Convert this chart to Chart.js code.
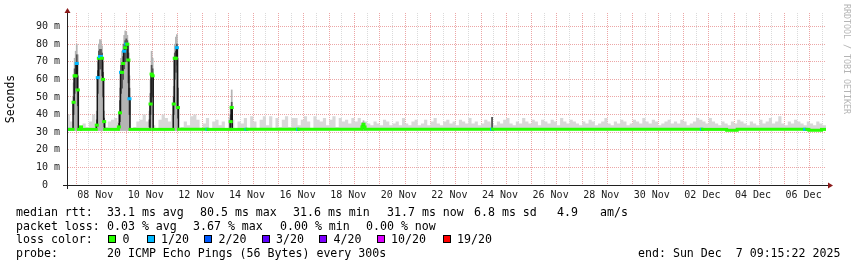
<!DOCTYPE html>
<html>
<head>
<meta charset="utf-8">
<title>median rtt</title>
<script src="https://cdn.jsdelivr.net/npm/chart.js@4.4.1/dist/chart.umd.min.js"></script>
<style>
  html, body { margin: 0; padding: 0; background: #fff; }
  #wrap { position: relative; width: 857px; height: 267px; overflow: hidden; }
  #chartBox { position: absolute; left: 0; top: 0; width: 857px; height: 267px; }
  .leg { position: absolute; font-family: 'DejaVu Sans Mono', monospace; font-size: 11.6px; line-height: 14px; color: #000; white-space: pre; }
  .sq { position: absolute; width: 8px; height: 8px; box-sizing: border-box; border: 1px solid #000; }
  #credit { position: absolute; left: 842px; top: 4px; writing-mode: vertical-rl; font-family: 'DejaVu Sans Mono', monospace; font-size: 8.3px; color: #b4b4b4; white-space: pre; }
</style>
</head>
<body>
<div id="wrap">
  <div id="chartBox"><canvas id="rttChart"></canvas></div>
  <div id="credit">RRDTOOL / TOBI OETIKER</div>

  <div class="leg" style="left:16px;top:205px">median rtt:</div>
  <div class="leg" style="left:107px;top:205px">33.1 ms avg</div>
  <div class="leg" style="left:200px;top:205px">80.5 ms max</div>
  <div class="leg" style="left:293px;top:205px">31.6 ms min</div>
  <div class="leg" style="left:387px;top:205px">31.7 ms now</div>
  <div class="leg" style="left:474px;top:205px">6.8 ms sd</div>
  <div class="leg" style="left:557px;top:205px">4.9</div>
  <div class="leg" style="left:600px;top:205px">am/s</div>

  <div class="leg" style="left:16px;top:218.5px">packet loss:</div>
  <div class="leg" style="left:107px;top:218.5px">0.03 % avg</div>
  <div class="leg" style="left:193px;top:218.5px">3.67 % max</div>
  <div class="leg" style="left:280px;top:218.5px">0.00 % min</div>
  <div class="leg" style="left:366px;top:218.5px">0.00 % now</div>

  <div class="leg" style="left:16px;top:232px">loss color:</div>
  <div id="lossKey"></div>

  <div class="leg" style="left:16px;top:246px">probe:</div>
  <div class="leg" style="left:107px;top:246px">20 ICMP Echo Pings (56 Bytes) every 300s</div>
  <div class="leg" style="left:638px;top:246px">end: Sun Dec  7 09:15:22 2025</div>
</div>

<script>
// time axis is in hours counted from 1 Nov 2025 00:00
const START_H = 153.25;   // 7 Nov 09:15
const END_H = 873.25;     // 7 Dec 09:15

const dayLabels = ['08 Nov', '10 Nov', '12 Nov', '14 Nov', '16 Nov', '18 Nov', '20 Nov', '22 Nov',
                   '24 Nov', '26 Nov', '28 Nov', '30 Nov', '02 Dec', '04 Dec', '06 Dec'];
const firstLabelH = 180;  // 8 Nov 12:00, then every 48h

// background smoke, 3 hour bins from 7 Nov 09:00, top of the ping spread in ms
const noiseStartH = 153;
const noiseTop = [
  40, 36, 33, 33, 32, 35, 33, 36,
  40, 34, 36, 36, 33, 36, 37, 38,
  36, 40, 40, 40, 32, 33, 36, 37,
  40, 36, 38, 34, 32, 37, 40, 38,
  36, 40, 40, 32, 33, 36, 34, 39,
  40, 37, 32, 35, 38, 32, 36, 37,
  34, 36, 32, 38, 37, 32, 36, 35,
  38, 32, 39, 36, 32, 37, 39, 34,
  39, 32, 38, 33, 37, 39, 33, 38,
  38, 34, 37, 39, 36, 32, 39, 37,
  36, 38, 34, 37, 39, 33, 38, 36,
  37, 35, 38, 36, 38, 35, 36, 35,
  34, 36, 35, 34, 37, 36, 34, 35,
  36, 34, 38, 35, 34, 36, 37, 34,
  35, 37, 34, 36, 38, 35, 34, 36,
  37, 35, 36, 34, 37, 36, 35, 38,
  35, 36, 34, 35, 37, 36, 35, 34,
  36, 35, 37, 38, 35, 34, 36, 35,
  38, 36, 35, 37, 36, 34, 37, 36,
  35, 37, 36, 34, 38, 36, 35, 37,
  36, 35, 34, 36, 35, 37, 36, 34,
  35, 36, 38, 35, 34, 36, 35, 37,
  36, 34, 35, 37, 36, 35, 38, 36,
  35, 37, 36, 34, 35, 36, 37, 35,
  36, 35, 37, 36, 34, 35, 36, 38,
  37, 36, 35, 38, 36, 35, 34, 36,
  35, 34, 36, 35, 37, 36, 35, 34,
  36, 35, 34, 37, 35, 36, 38, 35,
  36, 39, 35, 34, 36, 35, 37, 36,
  35, 34, 36, 35, 34, 36, 35, 34
];

// median rtt (ms) from the hour where it changes, with lost pings out of 20
const medHour = [153.25, 155, 159, 160, 161, 162, 163, 164, 166, 167,
                 181, 182, 183, 184, 185, 186, 187, 188, 189,
                 202, 203, 204, 205, 206, 207, 208, 209, 210, 211, 212, 213,
                 232, 233, 234, 235, 254, 255, 256, 257, 258, 259,
                 286, 287, 308, 309, 310, 323, 324, 372, 373,
                 433, 434, 435, 436, 556, 557, 755, 756, 779, 789, 853, 855, 857, 869];
const medRtt = [31.6, 31.6, 47, 62, 62, 69, 54, 31.6, 33, 31.6,
                34, 61, 72, 73, 73, 72, 60, 36, 31.6,
                33, 41, 64, 64, 69, 76, 78, 80, 80, 71, 49, 31.6,
                46, 63, 62, 31.6, 46, 72, 72, 78, 44, 31.6,
                31.6, 31.6, 36, 44, 31.6, 31.6, 31.6, 31.6, 31.6,
                33, 34.5, 33, 31.6, 31.6, 31.6, 31.6, 31.6, 31.1, 31.6, 31.6, 31.6, 31.1, 31.6];
const medLoss = [1, 0, 0, 0, 0, 1, 0, 0, 0, 0,
                 0, 1, 0, 1, 1, 0, 0, 0, 0,
                 0, 0, 1, 0, 0, 1, 0, 1, 0, 0, 1, 0,
                 0, 0, 0, 0, 0, 0, 0, 1, 0, 0,
                 1, 0, 0, 0, 0, 1, 0, 1, 0,
                 0, 0, 0, 0, 1, 0, 1, 0, 0, 0, 1, 0, 0, 0];

// hourly smoke in the evening slowdowns: top of spread, dense band high/low
const spikeHour = [159, 160, 161, 162, 163,
                   181, 182, 183, 184, 185, 186, 187, 188,
                   202, 203, 204, 205, 206, 207, 208, 209, 210, 211, 212,
                   231, 232, 233, 234,
                   254, 255, 256, 257, 258,
                   308, 309, 433, 434, 556];
const spikeTop = [58, 72, 76, 80, 74,
                  42, 70, 80, 82.6, 82, 79, 70, 42,
                  40, 55, 72, 76, 80, 85, 87.5, 87, 85, 79, 62,
                  42, 60, 76, 72,
                  56, 80, 84, 85.5, 72,
                  45, 54, 35.5, 36.5, 38.5];
const spikeHi = [50, 66, 68, 74, 62,
                 37, 65, 76, 77, 77, 75, 64, 38,
                 35, 48, 68, 68, 73, 80, 82, 83, 82, 75, 55,
                 37, 52, 68, 66,
                 50, 75, 76, 80, 55,
                 40, 47, 34, 35, 38.5];
const spikeLo = [40, 52, 55, 62, 45,
                 33, 52, 62, 66, 66, 62, 50, 33,
                 33, 36, 52, 55, 60, 66, 70, 72, 70, 58, 40,
                 33, 40, 52, 50,
                 40, 60, 64, 68, 38,
                 33, 37, 32, 32, 32];

const lossSteps = [0, 1, 2, 3, 4, 10, 19];
const lossNames = ['0', '1/20', '2/20', '3/20', '4/20', '10/20', '19/20'];
const lossColors = ['#26ff00', '#00b8ff', '#0059ff', '#5e00ff', '#7e00ff', '#dd00ff', '#ff0000'];

const GRID_GRAY = '#dadada';
const GRID_RED = '#eca6a6';
const AXIS_FONT = { family: 'DejaVu Sans Mono', size: 10 };

function lossColor(lost) {
    let c = lossColors[0];
    lossSteps.forEach((s, i) => { if (lost >= s) c = lossColors[i]; });
    return c;
}

// legend squares for the loss colours
const squareX = [108, 146.5, 204, 261.5, 319, 376.5, 442.5];
const keyBox = document.getElementById('lossKey');
lossNames.forEach((name, i) => {
    const sq = document.createElement('div');
    sq.className = 'sq';
    sq.style.left = squareX[i] + 'px';
    sq.style.top = '235px';
    sq.style.background = lossColors[i];
    keyBox.appendChild(sq);
    const lbl = document.createElement('div');
    lbl.className = 'leg';
    lbl.style.left = (squareX[i] + 14.5) + 'px';
    lbl.style.top = '232px';
    lbl.textContent = name;
    keyBox.appendChild(lbl);
});

// build the datasets
const noisePoints = noiseTop.map((v, i) => ({ x: noiseStartH + 3 * i, y: v }));
noisePoints.push({ x: END_H, y: noiseTop[noiseTop.length - 1] });

const medPoints = medHour.map((h, i) => ({ x: h, y: medRtt[i] }));
medPoints.push({ x: END_H, y: medRtt[medRtt.length - 1] });

// loss coloured median: one flat piece per bin, no vertical joins
const lossPoints = [];
medHour.forEach((h, i) => {
    const end = i + 1 < medHour.length ? medHour[i + 1] : END_H;
    lossPoints.push({ x: h, y: medRtt[i] }, { x: end, y: medRtt[i] }, { x: end, y: null });
});

const outerBars = spikeHour.map((h, i) => ({ x: h + 0.5, y: [31, spikeTop[i]] }));
const coreBars = spikeHour.map((h, i) => ({ x: h + 0.5, y: [spikeLo[i], spikeHi[i]] }));

const axisArrows = {
    id: 'axisArrows',
    afterDraw(chart) {
        const { ctx, chartArea: a } = chart;
        ctx.save();
        ctx.strokeStyle = '#202020';
        ctx.lineWidth = 1;
        ctx.beginPath();
        ctx.moveTo(a.left - 4, a.bottom + 0.5);
        ctx.lineTo(a.right + 3, a.bottom + 0.5);
        ctx.moveTo(a.left + 0.5, a.bottom + 4);
        ctx.lineTo(a.left + 0.5, a.top - 2);
        ctx.stroke();
        ctx.fillStyle = '#8b1a1a';
        ctx.beginPath();
        ctx.moveTo(a.right + 7, a.bottom + 0.5);
        ctx.lineTo(a.right + 2, a.bottom - 2.5);
        ctx.lineTo(a.right + 2, a.bottom + 3.5);
        ctx.fill();
        ctx.beginPath();
        ctx.moveTo(a.left + 0.5, a.top - 5);
        ctx.lineTo(a.left - 2.5, a.top);
        ctx.lineTo(a.left + 3.5, a.top);
        ctx.fill();
        ctx.restore();
    }
};

new Chart(document.getElementById('rttChart'), {
    type: 'line',
    data: {
        datasets: [
            {
                label: 'loss color',
                data: lossPoints,
                order: 0,
                borderColor: lossColors[0],
                borderWidth: 3,
                borderCapStyle: 'square',
                spanGaps: false,
                pointRadius: 0,
                segment: { borderColor: c => lossColor(medLoss[Math.floor(c.p0DataIndex / 3)]) }
            },
            {
                label: 'median rtt',
                data: medPoints,
                order: 1,
                stepped: true,
                borderColor: '#161616',
                borderWidth: 1.5,
                pointRadius: 0
            },
            {
                type: 'bar',
                label: 'smoke core',
                data: coreBars,
                order: 2,
                grouped: false,
                backgroundColor: '#555555',
                barPercentage: 1,
                categoryPercentage: 1
            },
            {
                type: 'bar',
                label: 'smoke',
                data: outerBars,
                order: 3,
                grouped: false,
                backgroundColor: '#b4b4b4',
                barPercentage: 1,
                categoryPercentage: 1
            },
            {
                label: 'smoke background',
                data: noisePoints,
                order: 4,
                stepped: true,
                borderWidth: 0,
                borderColor: 'rgba(0,0,0,0)',
                backgroundColor: '#d8d8d8',
                fill: { value: 31 },
                pointRadius: 0
            }
        ]
    },
    options: {
        responsive: true,
        maintainAspectRatio: false,
        animation: false,
        devicePixelRatio: 1,
        layout: { padding: { top: 13, right: 31, left: 0, bottom: 0 } },
        plugins: { legend: { display: false }, tooltip: { enabled: false } },
        scales: {
            x: {
                type: 'linear',
                min: START_H,
                max: END_H,
                offset: false,
                afterBuildTicks: s => {
                    s.ticks = [];
                    for (let h = 156; h < END_H; h += 12) s.ticks.push({ value: h });
                },
                afterFit: s => { s.height = 82; },
                grid: {
                    color: c => (c.tick && c.tick.value % 24 === 0) ? GRID_RED : GRID_GRAY,
                    drawTicks: false
                },
                border: { color: '#202020', dash: [1, 1] },
                ticks: {
                    autoSkip: false,
                    maxRotation: 0,
                    padding: 4,
                    color: '#1a1a1a',
                    font: AXIS_FONT,
                    callback: v => {
                        const k = (v - firstLabelH) / 48;
                        return Number.isInteger(k) && k >= 0 && k < dayLabels.length ? dayLabels[k] : '';
                    }
                }
            },
            y: {
                min: 0,
                max: 97.7,
                afterBuildTicks: s => {
                    s.ticks = [];
                    for (let v = 0; v <= 95; v += 5) s.ticks.push({ value: v });
                },
                afterFit: s => { s.width = 67; },
                grid: {
                    color: c => (c.tick && c.tick.value % 10 === 0) ? GRID_RED : GRID_GRAY,
                    drawTicks: false
                },
                border: { color: '#202020', dash: [1, 1] },
                title: {
                    display: true,
                    text: 'Seconds',
                    color: '#000',
                    font: { family: 'DejaVu Sans Mono', size: 11.5 },
                    padding: { top: 4.5, bottom: 0 }
                },
                ticks: {
                    padding: 7,
                    color: '#1a1a1a',
                    font: AXIS_FONT,
                    callback: v => v % 10 !== 0 ? '' : (v === 0 ? '0  ' : v + ' m')
                }
            }
        }
    },
    plugins: [axisArrows]
});
</script>
</body>
</html>
